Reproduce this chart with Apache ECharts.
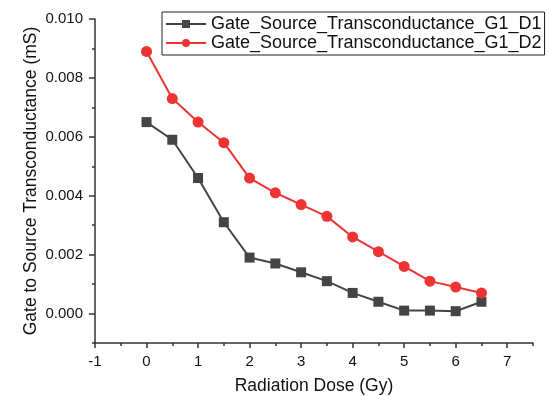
<!DOCTYPE html>
<html><head><meta charset="utf-8">
<script src="https://cdn.jsdelivr.net/npm/echarts@6/dist/echarts.min.js"></script>
<style>html,body{margin:0;padding:0;background:#fff}#c{width:549px;height:396px}</style>
</head><body><div id="c"></div>
<script>
const doses = [0, 0.5, 1, 1.5, 2, 2.5, 3, 3.5, 4, 4.5, 5, 5.5, 6, 6.5];
const d1 = [0.0065, 0.0059, 0.0046, 0.0031, 0.0019, 0.0017, 0.0014, 0.0011, 0.0007, 0.0004, 0.0001, 0.0001, 0.00008, 0.0004];
const d2 = [0.0089, 0.0073, 0.0065, 0.0058, 0.0046, 0.0041, 0.0037, 0.0033, 0.0026, 0.0021, 0.0016, 0.0011, 0.0009, 0.0007];
const seriesNames = ['Gate_Source_Transconductance_G1_D1', 'Gate_Source_Transconductance_G1_D2'];
const xMajor = [-1, 0, 1, 2, 3, 4, 5, 6, 7];
const xMinor = [-0.5, 0.5, 1.5, 2.5, 3.5, 4.5, 5.5, 6.5, 7.5];
const yMajor = [0, 0.002, 0.004, 0.006, 0.008, 0.010];
const yMinor = [-0.001, 0.001, 0.003, 0.005, 0.007, 0.009];

const font = 'Liberation Sans, Arial, sans-serif';
const axisCol = '#333';
const chart = echarts.init(document.getElementById('c'));
const pair = (xs, ys) => xs.map((x, i) => [x, ys[i]]);
chart.setOption({
  animation: false,
  grid: {left: 95, right: 16, top: 19, bottom: 53, outerBoundsMode: 'none', containLabel: false},
  legend: {
    orient: 'vertical', left: 162, top: 12,
    padding: [3, 3, 3, 3], itemGap: 1, itemWidth: 40, itemHeight: 10,
    borderColor: '#222', borderWidth: 1,
    textStyle: {fontFamily: font, fontSize: 18, color: '#111'},
    data: seriesNames
  },
  xAxis: [{
    type: 'value', min: -1, max: 7.5,
    name: 'Radiation Dose (Gy)', nameLocation: 'middle', nameGap: 34, nameMoveOverlap: false,
    nameTextStyle: {fontFamily: font, fontSize: 17.5, color: '#111'},
    axisLine: {onZero: false, lineStyle: {color: axisCol, width: 1.5}},
    axisTick: {customValues: xMajor, length: 5, lineStyle: {color: axisCol, width: 1.5}},
    axisLabel: {customValues: xMajor, fontFamily: font, fontSize: 15, color: '#111', margin: 11},
    splitLine: {show: false}
  }, {
    type: 'value', min: -1, max: 7.5, position: 'bottom',
    axisLine: {show: false, onZero: false},
    axisTick: {customValues: xMinor, length: 3, lineStyle: {color: axisCol, width: 1.5}},
    axisLabel: {show: false}, splitLine: {show: false}
  }],
  yAxis: [{
    type: 'value', min: -0.001, max: 0.010,
    name: 'Gate to Source Transconductance (mS)', nameLocation: 'middle', nameGap: 55, nameMoveOverlap: false,
    nameTextStyle: {fontFamily: font, fontSize: 17.5, color: '#111'},
    axisLine: {show: true, onZero: false, lineStyle: {color: axisCol, width: 1.5}},
    axisTick: {show: true, customValues: yMajor, length: 6, lineStyle: {color: axisCol, width: 1.5}},
    axisLabel: {customValues: yMajor, fontFamily: font, fontSize: 15, color: '#111', margin: 12,
      formatter: v => v.toFixed(3)},
    splitLine: {show: false}
  }, {
    type: 'value', min: -0.001, max: 0.010, position: 'left',
    axisLine: {show: false, onZero: false},
    axisTick: {show: true, customValues: yMinor, length: 3, lineStyle: {color: axisCol, width: 1.5}},
    axisLabel: {show: false}, splitLine: {show: false}
  }],
  series: [{
    name: seriesNames[0], type: 'line', data: pair(doses, d1),
    symbol: 'rect', symbolSize: 10,
    lineStyle: {color: '#444', width: 2}, itemStyle: {color: '#444'}
  }, {
    name: seriesNames[1], type: 'line', data: pair(doses, d2),
    symbol: 'circle', symbolSize: 11,
    lineStyle: {color: '#ee3333', width: 2}, itemStyle: {color: '#ee3333'}
  }]
});
</script></body></html>
